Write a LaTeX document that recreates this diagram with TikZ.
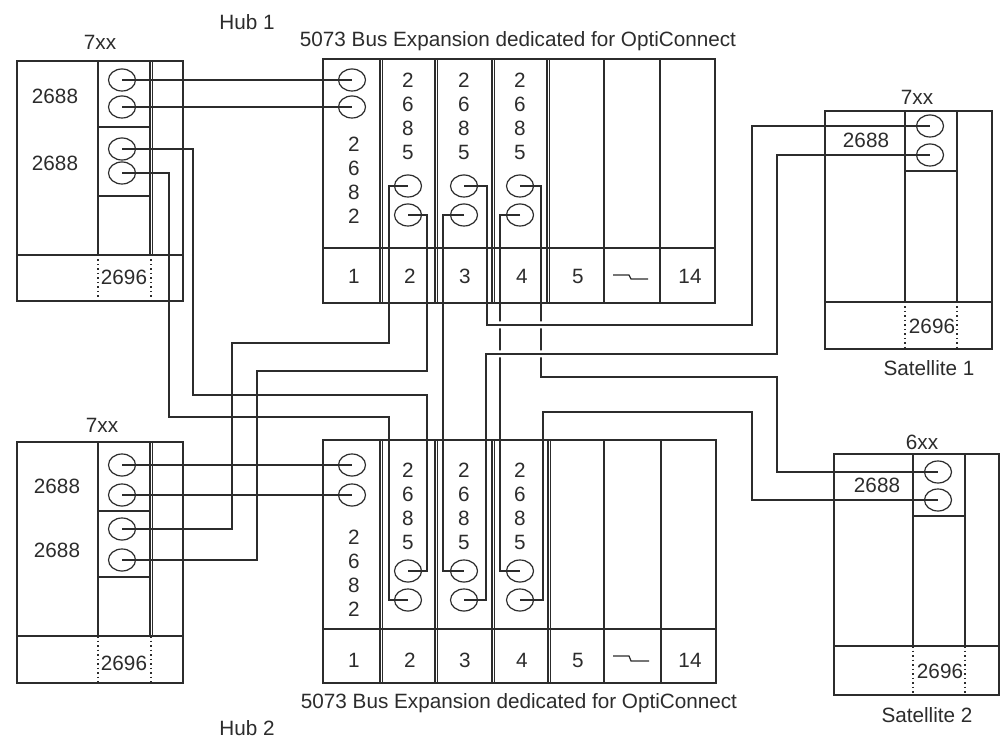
\documentclass[tikz,border=0pt]{standalone}
\usepackage{fontspec}
\setmainfont{Liberation Sans}
\usepackage{tikz}
\usetikzlibrary{shapes.geometric}
\definecolor{cablegray}{HTML}{2C2C2C}
\newcommand\unitfont{\fontsize{20.7}{24}\selectfont}

\begin{document}
\begin{tikzpicture}[x=1pt, y=-1pt, line width=1.2pt, color=cablegray,
    port/.style={draw, ellipse, minimum width=27, minimum height=22, inner sep=0pt},
    lbl/.style={inner sep=0pt, font=\unitfont},
    col/.style={lbl, align=center},
    cable/.style={draw, line width=1.2pt},
    iobay/.style={dash pattern=on 1.5pt off 3pt}]
  \fill[white] (0,0) rectangle (1005,746);
  \useasboundingbox (0,0) rectangle (1005,746);

  % Hub 1 system unit
  \draw (17,61) rectangle (183,301);
  \draw (17,255) -- (183,255) (98,61) -- (98,255) (150,61) -- (150,255) (152.5,61) -- (152.5,255)
        (98,127) -- (150,127) (98,196) -- (150,196);
  \draw[iobay] (98,255) -- (98,301) (151,255) -- (151,301);
  \node[lbl] (hubone) at (247,22) {Hub 1};
  \node[lbl] (h1sys) at (100,42) {7xx};
  \node[lbl] (h1ca) at (55,96) {2688};
  \node[lbl] (h1cb) at (55,163) {2688};
  \node[lbl] (h1io) at (124,277) {2696};
  \node[port] (h1a) at (122,80) {};
  \node[port] (h1b) at (122,107) {};
  \node[port] (h1c) at (122,149) {};
  \node[port] (h1d) at (122,173) {};

  % Hub 1 bus expansion
  \draw (323,59) rectangle (715,303);
  \draw (323,248) -- (715,248);
  \foreach \x in {380,435,492,547} \draw (\x,59) -- (\x,303) (\x+2.5,59) -- (\x+2.5,303);
  \foreach \x in {604,660} \draw (\x,59) -- (\x,303);
  \node[lbl] (b1title) at (518,41) {5073 Bus Expansion dedicated for OptiConnect};
  \foreach \n/\x in {1/354,2/410,3/465,4/522,5/578,14/690} \node[lbl] (b1n\n) at (\x,276) {\n};
  \draw (613,275) -- (629,275) -- (631,279) -- (648,279);
  \node[col] (b1c1) at (354,180) {2\\6\\8\\2};
  \node[port] (b1p1) at (352,80) {};
  \node[port] (b1p2) at (352,107) {};
  \foreach \s/\x in {2/408,3/464,4/520} {
    \node[col] (b1c\s) at (\x,116) {2\\6\\8\\5};
    \node[port] (b1u\s) at (\x,186) {};
    \node[port] (b1l\s) at (\x,215) {};
  }

  % Hub 2 system unit
  \draw (17,442) rectangle (183,683);
  \draw (17,636) -- (183,636) (98,442) -- (98,636) (150,442) -- (150,636) (152.5,442) -- (152.5,636)
        (98,511) -- (150,511) (98,577) -- (150,577);
  \draw[iobay] (98,636) -- (98,683) (151,636) -- (151,683);
  \node[lbl] (hubtwo) at (247,728) {Hub 2};
  \node[lbl] (h2sys) at (102,425) {7xx};
  \node[lbl] (h2ca) at (57,486) {2688};
  \node[lbl] (h2cb) at (57,550) {2688};
  \node[lbl] (h2io) at (124,663) {2696};
  \node[port] (h2a) at (122,465) {};
  \node[port] (h2b) at (122,495) {};
  \node[port] (h2c) at (122,529) {};
  \node[port] (h2d) at (122,560) {};

  % Hub 2 bus expansion
  \draw (323,440) rectangle (716,683);
  \draw (323,629) -- (716,629);
  \foreach \x in {380,435,492,548} \draw (\x,440) -- (\x,683) (\x+2.5,440) -- (\x+2.5,683);
  \foreach \x in {604,661} \draw (\x,440) -- (\x,683);
  \node[lbl] (b2title) at (519,703) {5073 Bus Expansion dedicated for OptiConnect};
  \foreach \n/\x in {1/354,2/410,3/465,4/522,5/578,14/690} \node[lbl] (b2n\n) at (\x,660) {\n};
  \draw (613,656) -- (629,656) -- (631,661) -- (649,661);
  \node[col] (b2c1) at (354,573) {2\\6\\8\\2};
  \node[port] (b2p1) at (352,465) {};
  \node[port] (b2p2) at (352,495) {};
  \foreach \s/\x in {2/408,3/464,4/520} {
    \node[col] (b2c\s) at (\x,506) {2\\6\\8\\5};
    \node[port] (b2u\s) at (\x,571) {};
    \node[port] (b2l\s) at (\x,600) {};
  }

  % Satellite 1
  \draw (825,111) rectangle (992,349);
  \draw (825,302) -- (992,302) (905,111) -- (905,302) (957,111) -- (957,302) (905,171) -- (957,171);
  \draw[iobay] (905,302) -- (905,349) (957,302) -- (957,349);
  \node[lbl] (s1sys) at (917,97) {7xx};
  \node[lbl] (s1ca) at (866,140) {2688};
  \node[lbl] (s1io) at (932,326) {2696};
  \node[lbl] (satone) at (929,368) {Satellite 1};
  \node[port] (s1a) at (930,126) {};
  \node[port] (s1b) at (930,155) {};

  % Satellite 2
  \draw (834,454) rectangle (999,695);
  \draw (834,646) -- (999,646) (913,454) -- (913,646) (965,454) -- (965,646) (913,516) -- (965,516);
  \draw[iobay] (913,646) -- (913,695) (965,646) -- (965,695);
  \node[lbl] (s2sys) at (922,442) {6xx};
  \node[lbl] (s2ca) at (877,485) {2688};
  \node[lbl] (s2io) at (940,671) {2696};
  \node[lbl] (sattwo) at (927,715) {Satellite 2};
  \node[port] (s2a) at (938,472) {};
  \node[port] (s2b) at (938,500) {};

  % OptiConnect cables
  \draw[cable] (h1a.center) -- (b1p1.center);
  \draw[cable] (h1b.center) -- (b1p2.center);
  \draw[cable] (h2a.center) -- (b2p1.center);
  \draw[cable] (h2b.center) -- (b2p2.center);
  \draw[cable] (h1c.center) -| (193,395) -| (427,571) -- (b2u2.center);
  \draw[cable] (h1d.center) -| (169,417) -| (389,600) -- (b2l2.center);
  \draw[cable] (h2c.center) -| (232,343) -| (389,186) -- (b1u2.center);
  \draw[cable] (h2d.center) -| (257,371) -| (427,215) -- (b1l2.center);
  \draw[cable] (b1l3.center) -| (443,571) -- (b2u3.center);
  \draw[cable] (b1l4.center) -| (500,571) -- (b2u4.center);
  \draw[cable] (b1u4.center) -| (541,377) -| (777,472) -- (s2a.center);
  \draw[cable] (b2l4.center) -| (543,412) -| (752,500) -- (s2b.center);
  \foreach \x in {500,541} \foreach \y in {325,354}
    \fill[white] (\x-1.7,\y-3.5) rectangle (\x+1.7,\y-0.7) (\x-1.7,\y+0.7) rectangle (\x+1.7,\y+3.5);
  \draw[cable] (b1u3.center) -| (487,325) -| (752,126) -- (s1a.center);
  \draw[cable] (b2l3.center) -| (486,354) -| (777,155) -- (s1b.center);
\end{tikzpicture}
\end{document}
